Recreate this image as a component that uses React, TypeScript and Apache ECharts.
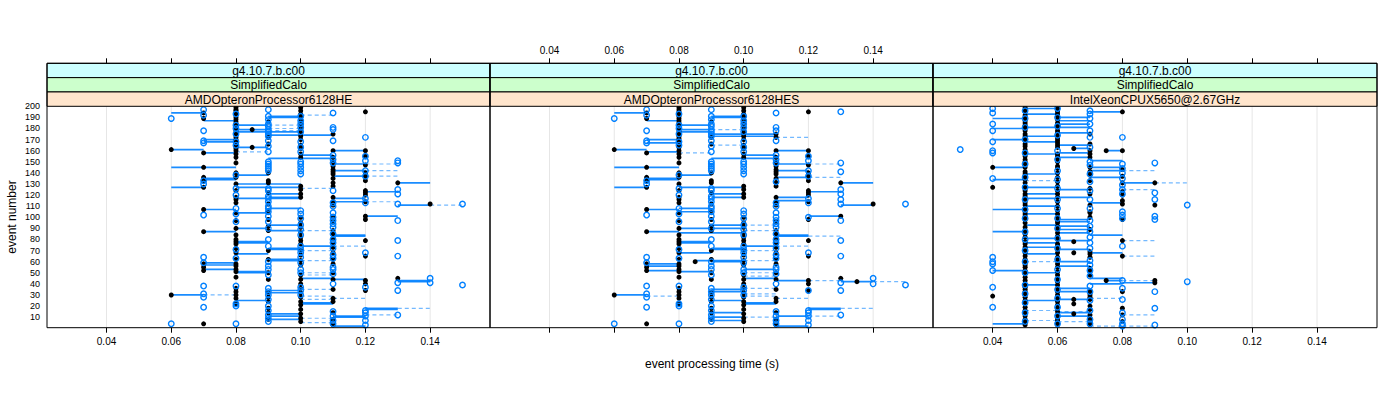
import React, { useEffect, useRef } from "react";
import * as echarts from "echarts";

// ---------- tick labels / strip texts ----------
const xTicks = [0.04, 0.06, 0.08, 0.1, 0.12, 0.14];
const yTicks = [10, 20, 30, 40, 50, 60, 70, 80, 90, 100, 110, 120, 130, 140, 150, 160, 170, 180, 190, 200];
const stripRelease = ["g4.10.7.b.c00", "g4.10.7.b.c00", "g4.10.7.b.c00"];
const stripConfig = ["SimplifiedCalo", "SimplifiedCalo", "SimplifiedCalo"];
const stripCpu = ["AMDOpteronProcessor6128HE", "AMDOpteronProcessor6128HES", "IntelXeonCPUX5650@2.67GHz"];

// ---------- panel 1: AMDOpteronProcessor6128HE ----------
// [time (s), event numbers]
const heBlack: [number, number[]][] = [
  [0.06, [161, 30]],
  [0.07, [194, 189, 158, 145, 136, 133, 127, 107, 87, 58, 55, 52, 4]],
  [0.08, [199, 197, 196, 194, 192, 190, 188, 186, 184, 182, 180, 178, 176, 174, 172, 170, 168, 166, 164, 162, 160, 157, 154, 149, 140, 136, 130, 124, 118, 116, 113, 104, 97, 90, 84, 80, 78, 76, 72, 68, 62, 58, 56, 53, 51, 46, 36, 33, 30, 27, 22]],
  [0.085, [179, 163]],
  [0.09, [186, 172, 166, 140, 133, 131, 122, 112, 106, 98, 92, 88, 70, 62, 50, 44, 32, 28, 24, 18, 14, 8]],
  [0.1, [199, 196, 193, 190, 188, 185, 182, 179, 176, 173, 170, 165, 162, 157, 154, 128, 125, 121, 118, 100, 95, 91, 86, 82, 79, 76, 70, 66, 61, 57, 48, 44, 40, 36, 32, 28, 24, 21, 17, 13, 9, 6]],
  [0.11, [175, 160, 154, 150, 146, 143, 141, 139, 135, 131, 128, 118, 114, 111, 101, 96, 88, 85, 81, 76, 73, 68, 62, 58, 50, 44, 35, 27, 24, 14, 8, 3]],
  [0.12, [195, 160, 155, 147, 140, 137, 133, 124, 122, 120, 114, 101, 98, 79, 65, 43, 40, 34]],
  [0.13, [131, 45]],
  [0.14, [112]],
];
const heBlue: [number, number[]][] = [
  [0.06, [189, 4]],
  [0.07, [197, 192, 178, 169, 167, 133, 130, 102, 64, 59, 38, 31, 28, 19]],
  [0.08, [193, 183, 180, 175, 168, 165, 138, 126, 120, 108, 103, 96, 71, 63, 38, 22, 20, 4]],
  [0.09, [197, 191, 188, 184, 182, 179, 177, 175, 173, 169, 164, 159, 150, 148, 146, 144, 142, 126, 124, 119, 117, 114, 110, 108, 105, 101, 96, 90, 80, 74, 60, 56, 53, 48, 36, 33, 30, 26, 20, 16, 12, 9, 6]],
  [0.1, [191, 187, 184, 181, 177, 168, 163, 159, 150, 148, 145, 142, 139, 106, 103, 99, 93, 89, 84, 74, 71, 68, 64, 59, 53, 50, 37, 34, 30]],
  [0.11, [194, 181, 179, 169, 156, 152, 149, 124, 113, 110, 104, 100, 97, 94, 91, 85, 80, 77, 72, 66, 63, 55, 53, 49, 40, 15, 11, 7, 4]],
  [0.12, [172, 155, 151, 142, 137, 117, 113, 68, 37, 16, 14, 11, 7, 3]],
  [0.13, [151, 149, 125, 121, 112, 97, 79, 65, 41, 34, 12]],
  [0.14, [45, 41]],
  [0.15, [112, 39]],
];
// [event, from time, to time]
const heSolid: [number, number, number][] = [
  [194, 0.06, 0.07], [187, 0.07, 0.08], [191, 0.09, 0.1], [190, 0.09, 0.1], [183, 0.08, 0.09], [179, 0.08, 0.09],
  [177, 0.08, 0.1], [174, 0.09, 0.11], [170, 0.07, 0.08], [168, 0.07, 0.08], [163, 0.08, 0.09], [161, 0.06, 0.07],
  [160, 0.11, 0.12], [158, 0.07, 0.08], [156, 0.1, 0.11], [153, 0.09, 0.11], [148, 0.11, 0.12], [145, 0.06, 0.08],
  [142, 0.11, 0.12], [138, 0.08, 0.09], [137, 0.11, 0.12], [135, 0.07, 0.08], [134, 0.07, 0.08], [131, 0.13, 0.14],
  [130, 0.08, 0.1], [127, 0.06, 0.07], [127, 0.08, 0.1], [123, 0.12, 0.13], [121, 0.09, 0.1], [118, 0.09, 0.1],
  [117, 0.08, 0.1], [117, 0.11, 0.12], [114, 0.11, 0.12], [111, 0.13, 0.14], [108, 0.09, 0.1], [107, 0.07, 0.08],
  [104, 0.08, 0.09], [101, 0.12, 0.13], [93, 0.09, 0.1], [90, 0.08, 0.09], [88, 0.09, 0.1], [87, 0.07, 0.08],
  [84, 0.11, 0.12], [83, 0.11, 0.12], [78, 0.08, 0.09], [77, 0.08, 0.09], [74, 0.1, 0.11], [72, 0.09, 0.1],
  [71, 0.09, 0.1], [67, 0.08, 0.09], [62, 0.09, 0.1], [61, 0.09, 0.1], [59, 0.07, 0.08], [57, 0.07, 0.08],
  [53, 0.07, 0.08], [51, 0.08, 0.09], [50, 0.08, 0.09], [45, 0.1, 0.11], [44, 0.11, 0.12], [43, 0.13, 0.14],
  [42, 0.13, 0.14], [34, 0.09, 0.1], [32, 0.09, 0.1], [30, 0.06, 0.07], [25, 0.08, 0.09], [23, 0.1, 0.11],
  [22, 0.1, 0.11], [18, 0.12, 0.13], [17, 0.12, 0.13], [13, 0.09, 0.1], [11, 0.09, 0.1], [11, 0.11, 0.12],
  [10, 0.11, 0.12], [8, 0.09, 0.1], [2, 0.11, 0.12],
];
const heDashed: [number, number, number][] = [
  [192, 0.1, 0.11], [183, 0.09, 0.1], [180, 0.09, 0.1], [178, 0.09, 0.1], [159, 0.08, 0.09], [148, 0.12, 0.13],
  [142, 0.12, 0.13], [137, 0.12, 0.13], [126, 0.1, 0.11], [114, 0.12, 0.13], [111, 0.14, 0.15], [88, 0.1, 0.11],
  [74, 0.11, 0.12], [70, 0.1, 0.11], [61, 0.1, 0.11], [50, 0.1, 0.11], [48, 0.1, 0.11], [35, 0.1, 0.11],
  [30, 0.07, 0.08], [29, 0.1, 0.11], [27, 0.11, 0.12], [26, 0.1, 0.11], [18, 0.13, 0.14], [12, 0.12, 0.13],
  [9, 0.1, 0.11], [5, 0.1, 0.11],
];

// ---------- panel 2: AMDOpteronProcessor6128HES ----------
const hesBlack: [number, number[]][] = [
  [0.06, [161, 30]],
  [0.07, [194, 189, 158, 145, 136, 133, 127, 107, 87, 58, 55, 52, 4]],
  [0.08, [199, 197, 195, 193, 191, 189, 187, 185, 183, 181, 179, 177, 175, 173, 171, 169, 167, 165, 163, 160, 157, 154, 149, 140, 136, 130, 124, 118, 116, 113, 104, 97, 90, 84, 80, 78, 76, 72, 68, 62, 58, 56, 53, 51, 46, 36, 33, 30, 27, 22]],
  [0.085, [60]],
  [0.09, [186, 172, 166, 140, 133, 131, 122, 112, 106, 98, 92, 88, 70, 62, 50, 44, 32, 28, 24, 18, 14, 8]],
  [0.1, [199, 196, 193, 190, 188, 185, 182, 179, 176, 173, 170, 165, 162, 157, 154, 128, 125, 121, 118, 100, 95, 91, 86, 82, 79, 76, 70, 66, 61, 57, 48, 44, 40, 36, 32, 28, 24, 21, 17, 13, 9, 6]],
  [0.11, [175, 172, 160, 154, 150, 146, 143, 141, 139, 135, 131, 128, 118, 114, 111, 96, 88, 85, 81, 76, 73, 68, 62, 58, 50, 44, 35, 27, 24, 14, 8, 3]],
  [0.12, [195, 160, 155, 147, 140, 137, 133, 124, 122, 120, 114, 98, 79, 65, 43, 40, 34]],
  [0.13, [131, 101, 45]],
  [0.135, [42]],
  [0.14, [112]],
];
const hesBlue: [number, number[]][] = [
  [0.06, [189, 4]],
  [0.07, [197, 192, 178, 169, 167, 133, 130, 102, 64, 59, 38, 31, 28, 19]],
  [0.08, [193, 183, 180, 175, 168, 165, 138, 126, 120, 108, 103, 96, 71, 63, 38, 22, 20, 4]],
  [0.09, [197, 191, 188, 184, 182, 179, 177, 175, 173, 169, 164, 159, 150, 148, 146, 144, 142, 126, 124, 119, 117, 114, 110, 108, 105, 101, 96, 90, 80, 74, 60, 56, 53, 48, 36, 33, 30, 26, 20, 16, 12, 9, 6]],
  [0.1, [191, 187, 184, 181, 177, 168, 163, 159, 150, 148, 145, 142, 139, 106, 103, 99, 93, 89, 84, 74, 71, 68, 64, 59, 53, 50, 37, 34, 30]],
  [0.11, [194, 181, 178, 169, 156, 152, 149, 132, 113, 110, 104, 100, 97, 94, 91, 85, 80, 77, 72, 66, 63, 55, 53, 49, 40, 15, 11, 7, 4]],
  [0.12, [155, 151, 142, 137, 117, 113, 100, 68, 34, 16, 14, 11, 7, 3]],
  [0.13, [195, 149, 141, 125, 121, 116, 112, 97, 79, 65, 41, 34, 12]],
  [0.14, [45, 40]],
  [0.15, [112, 39]],
];
const hesSolid: [number, number, number][] = [
  [194, 0.06, 0.07], [187, 0.07, 0.08], [191, 0.09, 0.1], [190, 0.09, 0.1], [183, 0.08, 0.09], [179, 0.08, 0.09],
  [177, 0.08, 0.09], [175, 0.09, 0.11], [173, 0.09, 0.11], [170, 0.07, 0.08], [167, 0.07, 0.08], [161, 0.06, 0.07],
  [160, 0.11, 0.12], [159, 0.07, 0.08], [156, 0.1, 0.11], [153, 0.09, 0.11], [148, 0.11, 0.12], [145, 0.06, 0.08],
  [142, 0.11, 0.12], [138, 0.08, 0.09], [136, 0.11, 0.12], [135, 0.07, 0.08], [134, 0.07, 0.08], [131, 0.13, 0.14],
  [127, 0.06, 0.07], [127, 0.08, 0.1], [123, 0.12, 0.13], [121, 0.09, 0.1], [118, 0.09, 0.1], [118, 0.11, 0.12],
  [115, 0.11, 0.12], [111, 0.13, 0.14], [108, 0.08, 0.09], [107, 0.07, 0.08], [105, 0.08, 0.09], [101, 0.12, 0.13],
  [93, 0.09, 0.1], [90, 0.08, 0.1], [87, 0.07, 0.08], [86, 0.08, 0.1], [84, 0.11, 0.12], [83, 0.11, 0.12],
  [78, 0.08, 0.09], [77, 0.08, 0.09], [74, 0.1, 0.11], [72, 0.09, 0.1], [71, 0.09, 0.1], [68, 0.08, 0.09],
  [61, 0.085, 0.1], [60, 0.09, 0.1], [58, 0.07, 0.08], [56, 0.07, 0.08], [52, 0.07, 0.08], [51, 0.08, 0.09],
  [53, 0.1, 0.11], [45, 0.1, 0.11], [43, 0.11, 0.12], [42, 0.13, 0.14], [35, 0.09, 0.1], [33, 0.09, 0.1],
  [30, 0.06, 0.07], [25, 0.09, 0.1], [23, 0.1, 0.11], [22, 0.1, 0.11], [18, 0.12, 0.13], [17, 0.12, 0.13],
  [14, 0.09, 0.1], [10, 0.09, 0.1], [11, 0.11, 0.12], [7, 0.09, 0.1], [2, 0.11, 0.12],
];
const hesDashed: [number, number, number][] = [
  [179, 0.09, 0.1], [172, 0.11, 0.12], [165, 0.09, 0.1], [158, 0.08, 0.09], [148, 0.12, 0.13], [136, 0.12, 0.13],
  [93, 0.1, 0.11], [88, 0.1, 0.11], [83, 0.12, 0.13], [74, 0.11, 0.12], [70, 0.1, 0.11], [61, 0.1, 0.11],
  [50, 0.1, 0.11], [47, 0.1, 0.11], [43, 0.12, 0.13], [42, 0.14, 0.15], [36, 0.1, 0.11], [31, 0.1, 0.11],
  [29, 0.1, 0.11], [29, 0.07, 0.08], [27, 0.11, 0.12], [18, 0.13, 0.14], [11, 0.12, 0.13], [10, 0.1, 0.11],
];

// ---------- panel 3: IntelXeonCPUX5650@2.67GHz ----------
const icBlack: [number, number[]][] = [
  [0.04, [145, 127, 29]],
  [0.05, [199, 197, 195, 192, 190, 187, 185, 183, 180, 178, 175, 173, 171, 169, 166, 164, 161, 159, 157, 155, 152, 150, 147, 145, 141, 139, 137, 134, 131, 128, 126, 124, 121, 119, 117, 115, 113, 111, 108, 105, 103, 101, 98, 95, 91, 88, 85, 82, 78, 76, 73, 71, 68, 65, 62, 59, 57, 55, 52, 49, 46, 43, 40, 37, 35, 33, 30, 28, 25, 22, 19, 16, 13, 11, 8, 5, 3]],
  [0.06, [199, 197, 195, 193, 191, 188, 185, 183, 181, 178, 176, 173, 171, 169, 167, 165, 163, 157, 155, 153, 150, 146, 144, 140, 136, 132, 128, 124, 121, 118, 114, 110, 106, 103, 100, 97, 95, 92, 89, 86, 83, 80, 76, 74, 71, 68, 64, 61, 58, 55, 51, 48, 45, 42, 39, 36, 33, 30, 27, 24, 21, 18, 15, 12, 9, 7, 5, 3]],
  [0.065, [162, 78, 68, 26, 22, 13]],
  [0.07, [175, 166, 160, 157, 154, 145, 141, 138, 133, 126, 121, 111, 105, 104, 100, 89, 69, 67, 64, 54, 51, 48, 34, 32, 30, 28, 26, 20, 17, 12, 9, 6, 3]],
  [0.075, [160, 43]],
  [0.08, [195, 160, 143, 137, 131, 123, 120, 115, 112, 98, 79, 65, 33, 18, 12, 6]],
  [0.09, [131, 111, 43, 41]],
];
const icBlue: [number, number[]][] = [
  [0.03, [161]],
  [0.04, [198, 194, 184, 178, 168, 160, 158, 135, 64, 60, 58, 52, 37, 19]],
  [0.05, [196, 189, 181, 170, 158, 148, 136, 127, 116, 107, 99, 87, 80, 70, 60, 50, 39, 31, 23, 14, 6]],
  [0.06, [198, 190, 182, 174, 160, 152, 142, 134, 126, 116, 108, 99, 90, 81, 72, 62, 53, 44, 35, 27, 19, 11, 4]],
  [0.07, [196, 193, 189, 184, 178, 172, 163, 150, 147, 139, 132, 124, 116, 108, 97, 92, 87, 82, 77, 72, 61, 57, 52, 47, 38, 33, 25, 16, 8, 4]],
  [0.08, [172, 148, 144, 140, 135, 129, 125, 121, 105, 102, 99, 74, 43, 36, 26, 14, 8, 4, 2]],
  [0.09, [149, 122, 116, 101, 98, 33, 18, 3]],
  [0.1, [111, 42]],
];
const icSolid: [number, number, number][] = [
  [198, 0.05, 0.06], [195, 0.07, 0.08], [193, 0.05, 0.06], [190, 0.06, 0.07], [189, 0.04, 0.05], [187, 0.06, 0.07],
  [184, 0.06, 0.07], [181, 0.05, 0.06], [181, 0.06, 0.07], [180, 0.04, 0.05], [176, 0.06, 0.07], [173, 0.05, 0.06],
  [170, 0.04, 0.05], [168, 0.05, 0.06], [165, 0.06, 0.07], [162, 0.065, 0.07], [160, 0.075, 0.08], [158, 0.06, 0.07],
  [157, 0.05, 0.06], [154, 0.06, 0.07], [151, 0.07, 0.08], [145, 0.04, 0.05], [145, 0.07, 0.08], [142, 0.07, 0.08],
  [139, 0.05, 0.06], [136, 0.07, 0.08], [134, 0.04, 0.05], [131, 0.08, 0.09], [127, 0.05, 0.06], [125, 0.06, 0.07],
  [121, 0.05, 0.06], [118, 0.06, 0.07], [117, 0.05, 0.06], [113, 0.07, 0.08], [110, 0.05, 0.06], [107, 0.04, 0.05],
  [103, 0.05, 0.06], [98, 0.06, 0.07], [96, 0.06, 0.07], [93, 0.05, 0.06], [92, 0.06, 0.07], [89, 0.06, 0.07],
  [87, 0.04, 0.05], [86, 0.06, 0.07], [84, 0.07, 0.08], [81, 0.05, 0.06], [79, 0.06, 0.07], [77, 0.05, 0.06],
  [73, 0.05, 0.06], [71, 0.06, 0.07], [68, 0.07, 0.08], [67, 0.05, 0.06], [60, 0.06, 0.07], [56, 0.06, 0.07],
  [52, 0.04, 0.05], [50, 0.05, 0.06], [45, 0.07, 0.08], [43, 0.075, 0.08], [41, 0.08, 0.09], [40, 0.07, 0.08],
  [39, 0.05, 0.06], [36, 0.06, 0.07], [33, 0.06, 0.07], [26, 0.06, 0.07], [25, 0.05, 0.06], [14, 0.06, 0.07],
  [11, 0.06, 0.07], [4, 0.04, 0.05],
];
const icDashed: [number, number, number][] = [
  [142, 0.08, 0.09], [133, 0.05, 0.06], [131, 0.09, 0.1], [125, 0.08, 0.09], [79, 0.08, 0.09], [65, 0.08, 0.09],
  [60, 0.05, 0.06], [43, 0.08, 0.09], [27, 0.07, 0.08], [16, 0.05, 0.06], [15, 0.06, 0.07], [12, 0.08, 0.09],
  [7, 0.05, 0.06], [6, 0.06, 0.07], [2, 0.07, 0.08], [2, 0.08, 0.09],
];

// ---------- layout ----------
const X_MIN = 0.0216;
const X_MAX = 0.1585;
const Y_MIN = 0.5;
const Y_MAX = 200;
const PANEL_LEFT = [47, 490, 933];
const PANEL_WIDTH = [443, 443, 444];
const PLOT_TOP = 106.3;
const PLOT_BOTTOM = 327.7;
const STRIP_TOP = 63.3;
const STRIP_H = (PLOT_TOP - STRIP_TOP) / 3;
const STRIP_COLORS = ["#ccffff", "#ccffcc", "#ffe5cc"];
const FONT = "Liberation Sans, Arial, Helvetica, sans-serif";

const panels = [
  { black: heBlack, blue: heBlue, solid: heSolid, dashed: heDashed },
  { black: hesBlack, blue: hesBlue, solid: hesSolid, dashed: hesDashed },
  { black: icBlack, blue: icBlue, solid: icSolid, dashed: icDashed },
];

function flatPts(arr: [number, number[]][]) {
  const out: number[][] = [];
  arr.forEach(([t, evs]) => evs.forEach((e) => out.push([t, e])));
  return out;
}

function segSeries(i: number, segs: [number, number, number][], dashed: boolean) {
  return {
    type: "custom",
    xAxisIndex: i,
    yAxisIndex: i,
    clip: true,
    silent: true,
    z: 3,
    encode: { x: [0, 2], y: 1 },
    data: segs.map(([e, a, b]) => [a, e, b]),
    renderItem: (params: any, api: any) => {
      const p1 = api.coord([api.value(0), api.value(1)]);
      const p2 = api.coord([api.value(2), api.value(1)]);
      return {
        type: "line",
        shape: { x1: p1[0], y1: p1[1], x2: p2[0], y2: p2[1] },
        style: dashed
          ? { stroke: "#0080ff", lineWidth: 1.2, lineDash: [4, 3], opacity: 0.55 }
          : { stroke: "#0080ff", lineWidth: 1.7, opacity: 0.9 },
      };
    },
  };
}

function gridLineSeries(i: number) {
  return {
    type: "custom",
    xAxisIndex: i,
    yAxisIndex: i,
    silent: true,
    z: 1,
    encode: { x: 0, y: 1 },
    data: xTicks.map((t) => [t, 100]),
    renderItem: (params: any, api: any) => {
      const p = api.coord([api.value(0), api.value(1)]);
      const cs = params.coordSys;
      return {
        type: "line",
        shape: { x1: p[0], y1: cs.y, x2: p[0], y2: cs.y + cs.height },
        style: { stroke: "#e6e6e6", lineWidth: 1 },
      };
    },
  };
}

export default function App() {
  const ref = useRef<HTMLDivElement>(null);

  useEffect(() => {
    if (!ref.current) return;
    const chart = echarts.init(ref.current, undefined, { renderer: "svg" });

    const grids = PANEL_LEFT.map((l, i) => ({
      left: l,
      top: PLOT_TOP,
      width: PANEL_WIDTH[i],
      height: PLOT_BOTTOM - PLOT_TOP,
      containLabel: false,
    }));

    const xAxes: any[] = [];
    for (let i = 0; i < 3; i++) {
      xAxes.push({
        type: "value",
        gridIndex: i,
        min: X_MIN,
        max: X_MAX,
        position: "bottom",
        axisLine: { show: false },
        axisTick: { show: true, length: 5, customValues: xTicks, lineStyle: { color: "#000", width: 1 } },
        axisLabel: {
          show: i !== 1,
          customValues: xTicks,
          formatter: (v: number) => v.toFixed(2),
          fontSize: 10,
          fontFamily: FONT,
          color: "#000",
          margin: 9,
        },
        splitLine: { show: false },
      });
    }
    for (let i = 0; i < 3; i++) {
      xAxes.push({
        type: "value",
        gridIndex: i,
        min: X_MIN,
        max: X_MAX,
        position: "top",
        offset: PLOT_TOP - STRIP_TOP,
        axisLine: { show: false },
        axisTick: { show: true, length: 5, customValues: xTicks, lineStyle: { color: "#000", width: 1 } },
        axisLabel: {
          show: i === 1,
          customValues: xTicks,
          formatter: (v: number) => v.toFixed(2),
          fontSize: 10,
          fontFamily: FONT,
          color: "#000",
          margin: 8,
        },
        splitLine: { show: false },
      });
    }

    const yAxes = [0, 1, 2].map((i) => ({
      type: "value",
      gridIndex: i,
      min: Y_MIN,
      max: Y_MAX,
      axisLine: { show: false },
      axisTick: { show: false },
      axisLabel: {
        show: i === 0,
        customValues: yTicks,
        fontSize: 9,
        fontFamily: FONT,
        color: "#000",
        margin: 7,
      },
      splitLine: { show: false },
    }));

    const series: any[] = [];
    panels.forEach((p, i) => {
      series.push(gridLineSeries(i));
      series.push(segSeries(i, p.dashed, true));
      series.push(segSeries(i, p.solid, false));
      series.push({
        type: "scatter",
        xAxisIndex: i,
        yAxisIndex: i,
        symbol: "circle",
        symbolSize: 5,
        z: 4,
        silent: true,
        itemStyle: { color: "#000", opacity: 1 },
        data: flatPts(p.black),
      });
      series.push({
        type: "scatter",
        xAxisIndex: i,
        yAxisIndex: i,
        symbol: "circle",
        symbolSize: 5.5,
        z: 5,
        silent: true,
        itemStyle: { color: "rgba(0,0,0,0)", borderColor: "#0080ff", borderWidth: 1.4, opacity: 1 },
        data: flatPts(p.blue),
      });
    });

    const graphics: any[] = [];
    PANEL_LEFT.forEach((l, i) => {
      const w = PANEL_WIDTH[i];
      const texts = [stripRelease[i], stripConfig[i], stripCpu[i]];
      texts.forEach((t, k) => {
        const y = STRIP_TOP + k * STRIP_H;
        graphics.push({
          type: "rect",
          shape: { x: l, y, width: w, height: STRIP_H },
          style: { fill: STRIP_COLORS[k], stroke: "#000", lineWidth: 1 },
          z: 10,
        });
        graphics.push({
          type: "text",
          x: l + w / 2,
          y: y + STRIP_H / 2 + 0.5,
          style: {
            text: t,
            font: `12px ${FONT}`,
            fill: "#000",
            textAlign: "center",
            textVerticalAlign: "middle",
            align: "center",
            verticalAlign: "middle",
          },
          z: 11,
        });
      });
      graphics.push({
        type: "rect",
        shape: { x: l, y: STRIP_TOP, width: w, height: PLOT_BOTTOM - STRIP_TOP },
        style: { fill: "none", stroke: "#000", lineWidth: 1 },
        z: 12,
      });
    });
    graphics.push({
      type: "text",
      x: (PANEL_LEFT[0] + PANEL_LEFT[2] + PANEL_WIDTH[2]) / 2,
      y: 364,
      style: {
        text: "event processing time (s)",
        font: `12px ${FONT}`,
        fill: "#000",
        textAlign: "center",
        textVerticalAlign: "middle",
        align: "center",
        verticalAlign: "middle",
      },
    });
    graphics.push({
      type: "text",
      x: 12,
      y: (PLOT_TOP + PLOT_BOTTOM) / 2,
      rotation: Math.PI / 2,
      style: {
        text: "event number",
        font: `12px ${FONT}`,
        fill: "#000",
        textAlign: "center",
        textVerticalAlign: "middle",
        align: "center",
        verticalAlign: "middle",
      },
    });

    chart.setOption({
      animation: false,
      backgroundColor: "#fff",
      grid: grids,
      xAxis: xAxes,
      yAxis: yAxes,
      series,
      graphic: { elements: graphics },
    });

    return () => chart.dispose();
  }, []);

  return (
    <div
      ref={ref}
      style={{ position: "absolute", left: 0, top: 0, width: 1400, height: 400, background: "#fff" }}
    />
  );
}
